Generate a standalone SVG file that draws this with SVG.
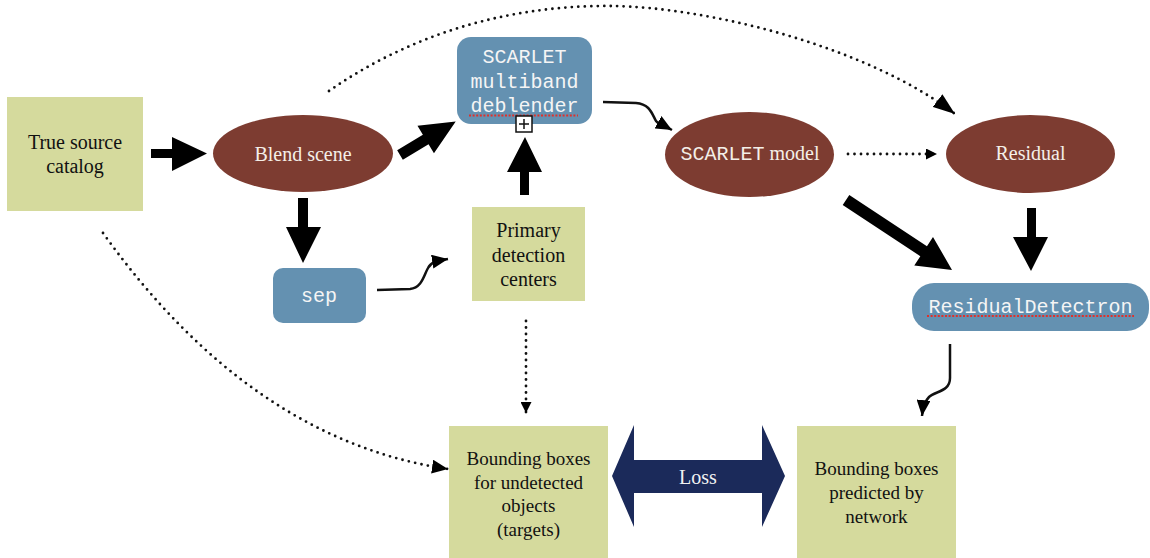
<svg xmlns="http://www.w3.org/2000/svg" width="1150" height="558" viewBox="0 0 1150 558">
<style>
.green{fill:#d5da9d}
.brown{fill:#7d3c31}
.blue{fill:#6491b1}
.serif{font-family:"Liberation Serif","Times New Roman",serif;font-size:20px}
.mono{font-family:"Liberation Mono","Courier New",monospace;font-size:20px}
.dark{fill:#111}
.light{fill:#f4efe8}
.dot{fill:none;stroke:#111;stroke-width:2.8;stroke-linecap:round;stroke-dasharray:0 6.5}
.solid{fill:none;stroke:#111;stroke-width:2.5}
.thick{fill:#000}
.spell{fill:none;stroke:#e0302a;stroke-width:2;stroke-dasharray:2 1.6}
</style>
<defs>
<marker id="ahBig" viewBox="0 0 22 16" refX="22" refY="8" markerWidth="22" markerHeight="16" markerUnits="userSpaceOnUse" orient="auto"><path d="M0,0 L22,8 L0,16 z" fill="#000"/></marker>
<marker id="ahMed" viewBox="0 0 16 14" refX="16" refY="7" markerWidth="16" markerHeight="14" markerUnits="userSpaceOnUse" orient="auto"><path d="M0,0 L16,7 L0,14 z" fill="#000"/></marker>
<marker id="ahSmall" viewBox="0 0 11 11" refX="11" refY="5.5" markerWidth="11" markerHeight="11" markerUnits="userSpaceOnUse" orient="auto"><path d="M0,0 L11,5.5 L0,11 z" fill="#000"/></marker>
</defs>
<rect width="1150" height="558" fill="#fff"/>

<g id="connectors">
<!-- thick arrows -->
<polygon class="thick" points="151,149 172,149 172,137 207,153.5 172,171 172,158 151,158"/>
<polygon class="thick" points="298,198 308,198 308,227 321,227 303,263 286,227 298,227"/>
<polygon class="thick" transform="translate(400,155) rotate(-31)" points="0,-5.5 30,-5.5 30,-16 65,0 30,16 30,5.5 0,5.5"/>
<polygon class="thick" points="520,195 529,195 529,172 542,172 525,137 507,172 520,172"/>
<polygon class="thick" transform="translate(846,200) rotate(33.4)" points="0,-6 93,-6 93,-17 127,0 93,17 93,6 0,6"/>
<polygon class="thick" points="1027,208 1036,208 1036,237 1048,237 1031,271 1013,237 1027,237"/>
<!-- solid curved arrows -->
<path class="solid" d="M603,102 L636,103 C650,104 652,114 656,121 C659,125 663,125 672,130" marker-end="url(#ahMed)"/>
<path class="solid" d="M377,290 L410,289 C422,288 424,275 428,268 C431,262 436,261 448,259" marker-end="url(#ahMed)"/>
<path class="solid" d="M950,344 L950,378 C950,392 935,391 929,397 C925,401 923,406 922,416" marker-end="url(#ahMed)"/>
<!-- dotted arrows -->
<path class="dot" d="M329,91 C420,28 520,5 612,6 S865,45 955,114" marker-end="url(#ahBig)"/>
<path class="dot" d="M848,154 L937,154" marker-end="url(#ahSmall)"/>
<path class="dot" d="M526,321 L526,413" marker-end="url(#ahSmall)"/>
<path class="dot" d="M103,233 Q251,440 448,469" marker-end="url(#ahMed)"/>
<!-- Loss double arrow -->
<polygon fill="#1b2a5a" points="612,476 634,425 634,460 762,460 762,425 785,476 762,527 762,493 634,493 634,527"/>
<text class="serif" x="698" y="484" text-anchor="middle" fill="#f2f2f2">Loss</text>
</g>

<g id="true-source">
<rect class="green" x="7" y="97" width="136" height="114"/>
<text class="serif dark" x="75" text-anchor="middle"><tspan x="75" y="149">True source</tspan><tspan x="75" y="173">catalog</tspan></text>
</g>

<g id="blend-scene">
<ellipse class="brown" cx="303" cy="153.5" rx="90" ry="38.5"/>
<text class="serif light" x="303" y="161" text-anchor="middle">Blend scene</text>
</g>

<g id="sep">
<rect class="blue" x="273" y="268" width="93" height="55" rx="10"/>
<text class="mono" x="319" y="302" text-anchor="middle" fill="#f5f5f5">sep</text>
</g>

<g id="scarlet-deblender">
<rect class="blue" x="457" y="37" width="135" height="87" rx="14"/>
<text class="mono" text-anchor="middle" fill="#f5f5f5"><tspan x="524.5" y="63">SCARLET</tspan><tspan x="524.5" y="88">multiband</tspan><tspan x="524.5" y="112">deblender</tspan></text>
<line class="spell" x1="469" y1="115.5" x2="578" y2="115.5"/>
<rect x="516" y="116" width="16" height="16" fill="#fff" stroke="#111" stroke-width="1.5"/>
<path d="M524,119 V129 M519,124 H529" stroke="#111" stroke-width="1.5"/>
</g>

<g id="primary-detection">
<rect class="green" x="472" y="207" width="113" height="94"/>
<text class="serif dark" text-anchor="middle"><tspan x="528.5" y="237">Primary</tspan><tspan x="528.5" y="262">detection</tspan><tspan x="528.5" y="286">centers</tspan></text>
</g>

<g id="scarlet-model">
<ellipse class="brown" cx="749.5" cy="154.5" rx="84.5" ry="42.5"/>
<text x="750" y="160" text-anchor="middle" class="light"><tspan class="mono">SCARLET</tspan><tspan class="serif"> model</tspan></text>
</g>

<g id="residual">
<ellipse class="brown" cx="1030.5" cy="154" rx="84.5" ry="39"/>
<text class="serif light" x="1030.5" y="160" text-anchor="middle">Residual</text>
</g>

<g id="residual-detectron">
<rect class="blue" x="912" y="283" width="237" height="48" rx="22"/>
<text class="mono" x="1030.5" y="313" text-anchor="middle" fill="#f5f5f5">ResidualDetectron</text>
<line class="spell" x1="927" y1="316" x2="1134" y2="316"/>
</g>

<g id="bbox-targets">
<rect class="green" x="449" y="426" width="159" height="132"/>
<text class="serif dark" text-anchor="middle" style="font-size:19px"><tspan x="528.5" y="465">Bounding boxes</tspan><tspan x="528.5" y="488.5">for undetected</tspan><tspan x="528.5" y="512">objects</tspan><tspan x="528.5" y="535.5">(targets)</tspan></text>
</g>

<g id="bbox-predicted">
<rect class="green" x="797" y="426" width="159" height="132"/>
<text class="serif dark" text-anchor="middle" style="font-size:19px"><tspan x="876.5" y="475">Bounding boxes</tspan><tspan x="876.5" y="499">predicted by</tspan><tspan x="876.5" y="523">network</tspan></text>
</g>
</svg>
